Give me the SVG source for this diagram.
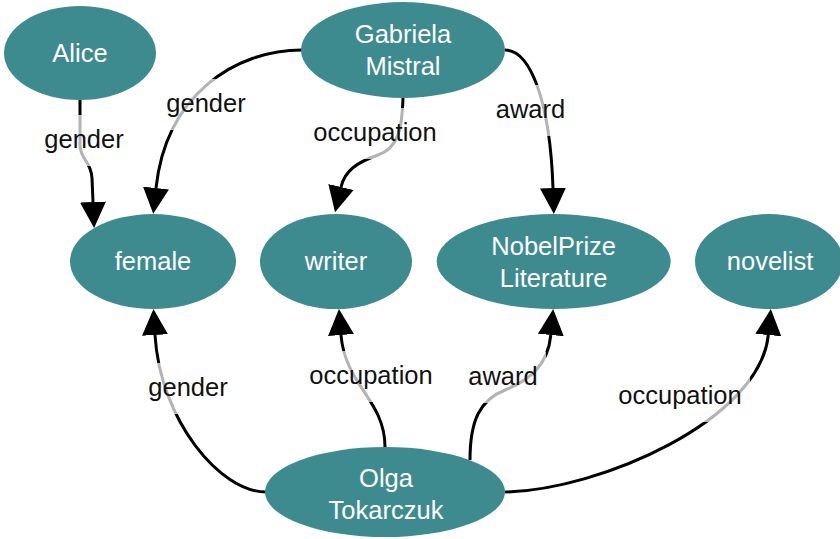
<svg xmlns="http://www.w3.org/2000/svg" width="840" height="539" viewBox="0 0 840 539">
  <defs>
    <marker id="arrow" markerUnits="userSpaceOnUse" markerWidth="26" markerHeight="26" viewBox="0 0 26 26" refX="0" refY="13" orient="auto">
      <path d="M0,0 L26,13 L0,26 z" fill="#000"/>
    </marker>
    <style>
      .node ellipse { fill: #3e8b8f; }
      .node text { fill: #ffffff; font-family: "Liberation Sans", Arial, sans-serif; font-size: 25.5px; text-anchor: middle; }
      .edge path { fill: none; stroke: #000; stroke-width: 3; marker-end: url(#arrow); }
      .label rect { fill: #ffffff; fill-opacity: 0.7; }
      .label text { fill: #111; font-family: "Liberation Sans", Arial, sans-serif; font-size: 25.5px; text-anchor: middle; }
    </style>
  </defs>
  <rect width="840" height="539" fill="#ffffff"/>

  <g id="connectors">
    <g class="edge" id="e-alice-female">
      <path d="M80,100 L80,145 C80,160 91,160 92,178 L93,202"/>
    </g>
    <g class="edge" id="e-gabriela-female">
      <path d="M302,50 C235,50 166,95 156,188"/>
    </g>
    <g class="edge" id="e-gabriela-writer">
      <path d="M403,98 C402,130 398,148 378,155 S345,170 341,187"/>
    </g>
    <g class="edge" id="e-gabriela-nobel">
      <path d="M505,50 C530,50 550,100 553,188"/>
    </g>
    <g class="edge" id="e-olga-female">
      <path d="M266,492 C220,492 160,420 155,335"/>
    </g>
    <g class="edge" id="e-olga-writer">
      <path d="M385,447 C385,400 345,385 341,335"/>
    </g>
    <g class="edge" id="e-olga-nobel">
      <path d="M470,460 C470,420 480,400 505,390 S548,365 550.8,335"/>
    </g>
    <g class="edge" id="e-olga-novelist">
      <path d="M505,492 C600,490 760,420 768.3,335"/>
    </g>

    <g class="label"><rect x="36" y="115" width="96" height="51"/><text x="84" y="148">gender</text></g>
    <g class="label"><rect x="158" y="79" width="96" height="51"/><text x="206" y="112">gender</text></g>
    <g class="label"><rect x="305" y="108" width="140" height="51"/><text x="375" y="141">occupation</text></g>
    <g class="label"><rect x="488" y="85" width="85" height="51"/><text x="530.5" y="118">award</text></g>
    <g class="label"><rect x="140" y="363" width="96" height="51"/><text x="188" y="396">gender</text></g>
    <g class="label"><rect x="301" y="351" width="140" height="51"/><text x="371" y="384">occupation</text></g>
    <g class="label"><rect x="460" y="352" width="86" height="51"/><text x="503" y="385">award</text></g>
    <g class="label"><rect x="610" y="371" width="140" height="51"/><text x="680" y="404">occupation</text></g>
  </g>

  <g class="node" id="alice">
    <ellipse cx="80" cy="53" rx="76" ry="47"/>
    <text x="80" y="62">Alice</text>
  </g>
  <g class="node" id="gabriela-mistral">
    <ellipse cx="403" cy="50" rx="102" ry="48"/>
    <text x="403" y="43">Gabriela</text>
    <text x="403" y="75">Mistral</text>
  </g>
  <g class="node" id="female">
    <ellipse cx="153" cy="261.5" rx="83" ry="47.5"/>
    <text x="153" y="270">female</text>
  </g>
  <g class="node" id="writer">
    <ellipse cx="336" cy="261.5" rx="76" ry="47.5"/>
    <text x="336" y="270">writer</text>
  </g>
  <g class="node" id="nobelprize-literature">
    <ellipse cx="553.7" cy="261.5" rx="117" ry="47.5"/>
    <text x="553.7" y="255">NobelPrize</text>
    <text x="553.7" y="287">Literature</text>
  </g>
  <g class="node" id="novelist">
    <ellipse cx="769" cy="261.5" rx="74" ry="47.5"/>
    <text x="770" y="270">novelist</text>
  </g>
  <g class="node" id="olga-tokarczuk">
    <ellipse cx="385" cy="492" rx="120" ry="45"/>
    <text x="386" y="487">Olga</text>
    <text x="386" y="519">Tokarczuk</text>
  </g>
</svg>
